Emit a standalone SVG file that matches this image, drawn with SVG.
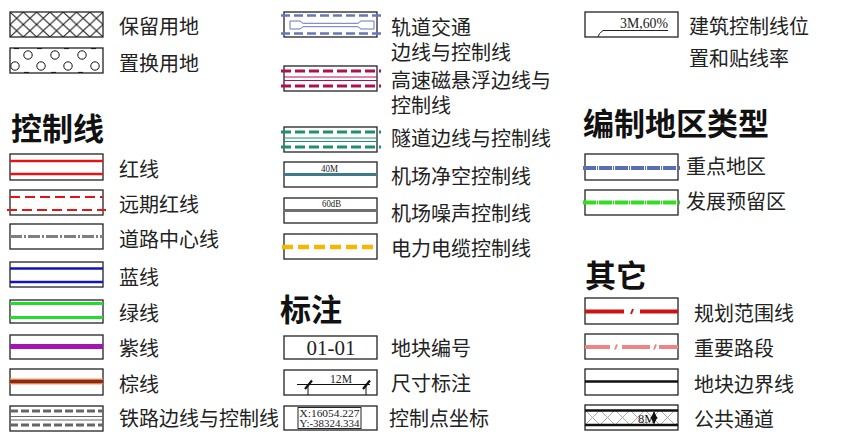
<svg xmlns="http://www.w3.org/2000/svg" width="845" height="441" viewBox="0 0 845 441">
<style>
.box{fill:#fff;stroke:#222;stroke-width:1.3}
.lbl{font-family:"Liberation Sans","Noto Sans CJK SC",sans-serif;font-size:20px;fill:#222}
.hd{font-family:"Liberation Sans","Noto Sans CJK SC",sans-serif;font-size:31px;font-weight:bold;fill:#111}
.ser{font-family:"Liberation Serif",serif;fill:#222}
.ln{fill:none}
</style>
<defs>
<pattern id="xh" patternUnits="userSpaceOnUse" x="10" y="12" width="13.3" height="12.5">
<path d="M0,0L13.3,12.5M13.3,0L0,12.5" stroke="#111" stroke-width="1"/>
</pattern>
<pattern id="gh" patternUnits="userSpaceOnUse" x="585" y="410" width="15" height="15">
<path d="M0,0L15,15M15,0L0,15" stroke="#aaa" stroke-width="1"/>
</pattern>
<marker id="ah" viewBox="0 0 6 6" refX="5.5" refY="3" markerWidth="6" markerHeight="6" orient="auto-start-reverse">
<path d="M0,0L6,3L0,6Z" fill="#111"/>
</marker>
</defs>
<rect width="845" height="441" fill="#fff"/>

<!-- Left column -->
<g id="baoliu">
<rect class="box" x="10" y="12" width="93" height="25" style="fill:url(#xh)"/>
<text class="lbl" x="119" y="33.5">保留用地</text>
</g>
<g id="zhihuan">
<rect class="box" x="10" y="48" width="93" height="25"/>
<g fill="none" stroke="#111" stroke-width="1">
<circle cx="28" cy="55" r="4.2"/><circle cx="55" cy="55" r="4.2"/><circle cx="82" cy="55" r="4.2"/>
<circle cx="15" cy="66" r="4.2"/><circle cx="41" cy="66" r="4.2"/><circle cx="68" cy="66" r="4.2"/><circle cx="95" cy="66" r="4.2"/>
<path d="M14,48.6h5M37,48.6h5M64,48.6h5M91,48.6h5M24,72.4h5M51,72.4h5M78,72.4h5"/>
</g>
<text class="lbl" x="119" y="70.5">置换用地</text>
</g>
<text class="hd" x="11" y="140">控制线</text>
<g id="hongxian">
<rect class="box" x="10" y="154" width="93" height="26"/>
<path class="ln" d="M10,161H103M10,174H103" stroke="#e41414" stroke-width="2.6"/>
<text class="lbl" x="119" y="176.5">红线</text>
</g>
<g id="yuanqi">
<rect class="box" x="10" y="190" width="93" height="25"/>
<path class="ln" d="M10,197H103M7,210H106" stroke="#e41414" stroke-width="2" stroke-dasharray="10 5"/>
<text class="lbl" x="119" y="211.5">远期红线</text>
</g>
<g id="daolu">
<rect class="box" x="10" y="224" width="93" height="25"/>
<path class="ln" d="M10,236.5H103" stroke="#808080" stroke-width="3" stroke-dasharray="12 2 2 2"/>
<text class="lbl" x="119" y="246.5">道路中心线</text>
</g>
<g id="lanxian">
<rect class="box" x="10" y="262" width="93" height="25"/>
<path class="ln" d="M10,268.5H103M10,282H103" stroke="#1414b4" stroke-width="2.6"/>
<text class="lbl" x="119" y="284.5">蓝线</text>
</g>
<g id="lvxian">
<rect class="box" x="10" y="300" width="93" height="23"/>
<path class="ln" d="M10,303.5H103M10,317.5H103" stroke="#22dd2a" stroke-width="3"/>
<text class="lbl" x="119" y="320.5">绿线</text>
</g>
<g id="zixian">
<rect class="box" x="10" y="335" width="93" height="24"/>
<path class="ln" d="M10,346.5H103" stroke="#a414b4" stroke-width="5"/>
<text class="lbl" x="119" y="355.5">紫线</text>
</g>
<g id="zongxian">
<rect class="box" x="10" y="369" width="93" height="26"/>
<path class="ln" d="M10,381.5H103" stroke="#f0a070" stroke-width="6"/>
<path class="ln" d="M10,381.5H103" stroke="#8b2a0c" stroke-width="3.6"/>
<text class="lbl" x="119" y="391.5">棕线</text>
</g>
<g id="tielu">
<rect class="box" x="10" y="406" width="93" height="25"/>
<path class="ln" d="M10,411H103M10,425H103" stroke="#666" stroke-width="3" stroke-dasharray="8 3"/>
<path class="ln" d="M10,416.5H103M10,420H103" stroke="#666" stroke-width="1"/>
<text class="lbl" x="119" y="425.5">铁路边线与控制线</text>
</g>

<!-- Middle column -->
<g id="guidao">
<rect class="box" x="284" y="12" width="93" height="25"/>
<path class="ln" d="M281,15.5H381M281,33.5H381" stroke="#6677bb" stroke-width="2.6" stroke-dasharray="9 4"/>
<path class="ln" d="M290,21H300L303,23.3H358L361,21H374V29H361L358,26.7H303L300,29H290Z" stroke="#6677bb" stroke-width="1"/>
<text class="lbl" x="391" y="35"><tspan x="391" y="35">轨道交通</tspan><tspan x="391" y="60">边线与控制线</tspan></text>
</g>
<g id="cixuanfu">
<rect class="box" x="284" y="66" width="93" height="25"/>
<path class="ln" d="M281,71H381M281,86H381" stroke="#b01050" stroke-width="3.2" stroke-dasharray="10 4"/>
<path class="ln" d="M284,77H377M284,80.5H377" stroke="#b01050" stroke-width="1"/>
<text class="lbl" x="391" y="88"><tspan x="391" y="88">高速磁悬浮边线与</tspan><tspan x="391" y="113">控制线</tspan></text>
</g>
<g id="suidao">
<rect class="box" x="284" y="127" width="93" height="25"/>
<path class="ln" d="M281,132H381M281,147H381" stroke="#20906a" stroke-width="3" stroke-dasharray="10 4"/>
<path class="ln" d="M284,138H377M284,141.5H377" stroke="#20906a" stroke-width="1"/>
<text class="lbl" x="391" y="146">隧道边线与控制线</text>
</g>
<g id="jingkong">
<rect class="box" x="284" y="162" width="93" height="25"/>
<path class="ln" d="M284,174.5H377" stroke="#3d7a8c" stroke-width="3"/>
<text class="ser" x="321" y="171.5" font-size="11" textLength="17" lengthAdjust="spacingAndGlyphs">40M</text>
<text class="lbl" x="391" y="184">机场净空控制线</text>
</g>
<g id="zaosheng">
<rect class="box" x="284" y="198" width="93" height="25"/>
<path class="ln" d="M284,210.5H377" stroke="#6e6e6e" stroke-width="3"/>
<text class="ser" x="322" y="207" font-size="11" textLength="19" lengthAdjust="spacingAndGlyphs">60dB</text>
<text class="lbl" x="391" y="221">机场噪声控制线</text>
</g>
<g id="dianli">
<rect class="box" x="284" y="234" width="93" height="25"/>
<path class="ln" d="M282,247H377" stroke="#f5b800" stroke-width="4.5" stroke-dasharray="11 5"/>
<text class="lbl" x="391" y="256">电力电缆控制线</text>
</g>
<text class="hd" x="280" y="321">标注</text>
<g id="dikuai">
<rect class="box" x="284" y="336" width="93" height="23"/>
<text class="ser" x="331" y="355" font-size="21" text-anchor="middle">01-01</text>
<text class="lbl" x="391" y="356">地块编号</text>
</g>
<g id="chicun">
<rect class="box" x="284" y="370" width="93" height="25"/>
<path class="ln" d="M297,384.5H370M308,384.5V395M366,384.5V395" stroke="#111" stroke-width="1"/>
<path class="ln" d="M305,389L312,380.5M363,389L370,380.5" stroke="#111" stroke-width="2.2"/>
<text class="ser" x="330" y="382.5" font-size="12" textLength="22" lengthAdjust="spacingAndGlyphs">12M</text>
<text class="lbl" x="391" y="391">尺寸标注</text>
</g>
<g id="kongzhidian">
<rect class="box" x="284" y="406" width="93" height="24"/>
<rect x="298" y="407.5" width="63" height="21" fill="none" stroke="#222" stroke-width="1"/>
<text class="ser" x="299.5" y="417" font-size="10" textLength="60" lengthAdjust="spacingAndGlyphs">X:16054.227</text>
<text class="ser" x="299.5" y="427" font-size="10" textLength="60" lengthAdjust="spacingAndGlyphs">Y:-38324.334</text>
<text class="lbl" x="389" y="426">控制点坐标</text>
</g>

<!-- Right column -->
<g id="jianzhu">
<rect class="box" x="585" y="12" width="93" height="25"/>
<text class="ser" x="620" y="28" font-size="14" textLength="48" lengthAdjust="spacingAndGlyphs">3M,60%</text>
<path class="ln" d="M668,30.5H603L599.5,33.5L598,37" stroke="#222" stroke-width="1"/>
<text class="lbl" x="689" y="33.5"><tspan x="689" y="33.5">建筑控制线位</tspan><tspan x="689" y="65.5">置和贴线率</tspan></text>
</g>
<text class="hd" x="583" y="135">编制地区类型</text>
<g id="zhongdian">
<rect class="box" x="585" y="154" width="93" height="26"/>
<path class="ln" d="M583,168H680" stroke="#5a6eb4" stroke-width="4" stroke-dasharray="13 1 1 1"/>
<text class="lbl" x="686" y="173.5">重点地区</text>
</g>
<g id="fazhan">
<rect class="box" x="585" y="190" width="93" height="25"/>
<path class="ln" d="M583,202.5H680" stroke="#33dd22" stroke-width="4" stroke-dasharray="13 1 1 1"/>
<text class="lbl" x="686" y="208.5">发展预留区</text>
</g>
<text class="hd" x="585" y="287">其它</text>
<g id="guihua">
<rect class="box" x="585" y="298" width="93" height="26"/>
<path class="ln" d="M585,311.5H624M640,311.5H678" stroke="#cc1414" stroke-width="4"/>
<path class="ln" d="M631,314L633,309" stroke="#cc1414" stroke-width="2"/>
<text class="lbl" x="694" y="320.5">规划范围线</text>
</g>
<g id="zhongyao">
<rect class="box" x="585" y="334" width="93" height="25"/>
<path class="ln" d="M585,347H610M622,347H650M659,347H678" stroke="#f08484" stroke-width="4"/>
<path class="ln" d="M615,349.5L617,344.5M654,349.5L656,344.5" stroke="#f08484" stroke-width="2"/>
<text class="lbl" x="694" y="355.5">重要路段</text>
</g>
<g id="bianjie">
<rect class="box" x="585" y="369" width="93" height="26"/>
<path class="ln" d="M585,381.5H678" stroke="#111" stroke-width="2.6"/>
<text class="lbl" x="694" y="391.5">地块边界线</text>
</g>
<g id="gonggong">
<rect class="box" x="585" y="405" width="93" height="25"/>
<rect x="585.6" y="410" width="91.8" height="15" fill="url(#gh)"/>
<path class="ln" d="M585,410.5H678M585,425H678" stroke="#111" stroke-width="2.6"/>
<text class="ser" x="638" y="423" font-size="12.5">8M</text>
<path class="ln" d="M654,412V423.5" stroke="#111" stroke-width="1.2" marker-start="url(#ah)" marker-end="url(#ah)"/>
<text class="lbl" x="694" y="426.5">公共通道</text>
</g>
</svg>
